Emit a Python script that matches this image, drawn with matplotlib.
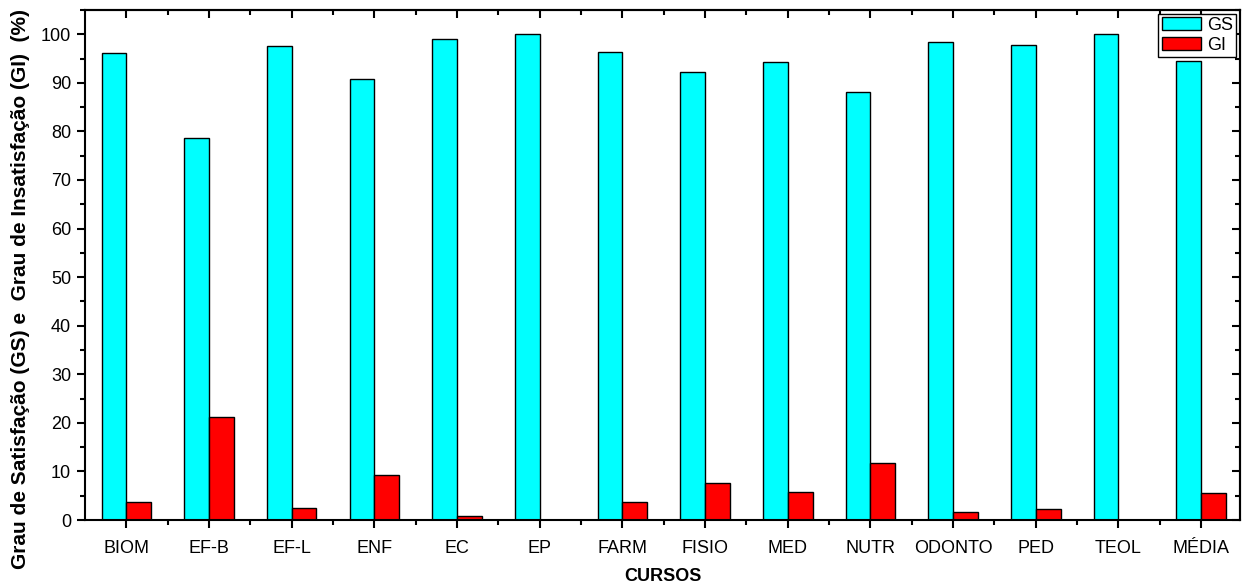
import matplotlib
matplotlib.use("Agg")
import matplotlib.pyplot as plt
import numpy as np
from matplotlib.ticker import MultipleLocator, FixedLocator

plt.rcParams['font.family'] = ['Liberation Sans', 'DejaVu Sans']

categories = ["BIOM", "EF-B", "EF-L", "ENF", "EC", "EP", "FARM", "FISIO",
              "MED", "NUTR", "ODONTO", "PED", "TEOL", "MÉDIA"]
gs_values = [96.2, 78.7, 97.6, 90.7, 99.1, 100.0, 96.3, 92.3, 94.3, 88.2, 98.3, 97.7, 100.0, 94.5]
gi_values = [3.8, 21.3, 2.4, 9.3, 0.9, 0.0, 3.7, 7.7, 5.7, 11.8, 1.7, 2.3, 0.0, 5.5]
y_ticks = [0, 10, 20, 30, 40, 50, 60, 70, 80, 90, 100]

fig = plt.figure(figsize=(12.44, 5.85), dpi=100)
ax = fig.add_axes([0.0683, 0.111, 0.9285, 0.872])

x = np.arange(len(categories))
w = 0.3
ax.bar(x - w / 2, gs_values, width=w, color="#00FFFF", edgecolor="black", linewidth=1.0, label="GS")
ax.bar(x + w / 2, gi_values, width=w, color="#FF0000", edgecolor="black", linewidth=1.0, label="GI")

ax.set_xlim(-0.5, 13.47)
ax.set_ylim(0, 105)
ax.set_xticks(x)
ax.set_xticklabels(categories, fontsize=13)
ax.xaxis.set_minor_locator(FixedLocator(x[:-1] + 0.5))
ax.set_yticks(y_ticks)
ax.set_yticklabels([str(v) for v in y_ticks], fontsize=13)
ax.yaxis.set_minor_locator(MultipleLocator(5))
ax.tick_params(axis='both', which='major', direction='out', length=6, width=1.5, pad=4)
ax.tick_params(axis='x', which='major', pad=8)
ax.tick_params(axis='both', which='minor', direction='out', length=3.5, width=1.5)

for s in ax.spines.values():
    s.set_linewidth(1.5)

top = ax.secondary_xaxis('top')
top.set_xticks(x)
top.xaxis.set_minor_locator(FixedLocator(x[:-1] + 0.5))
top.tick_params(axis='x', which='major', direction='in', length=6, width=1.5, labeltop=False)
top.tick_params(axis='x', which='minor', direction='in', length=3.5, width=1.5)
top.spines['top'].set_linewidth(1.5)

right = ax.secondary_yaxis('right')
right.set_yticks(y_ticks)
right.yaxis.set_minor_locator(MultipleLocator(5))
right.tick_params(axis='y', which='major', direction='in', length=6, width=1.5, labelright=False)
right.tick_params(axis='y', which='minor', direction='in', length=3.5, width=1.5)
right.spines['right'].set_linewidth(1.5)

ax.set_xlabel("CURSOS", fontsize=13, fontweight='bold', labelpad=8)
ax.set_ylabel("Grau de Satisfação (GS) e  Grau de Insatisfação (GI)  (%)", fontsize=15,
              fontweight='bold', va='center', ha='center')
ax.yaxis.set_label_coords(-0.0555, 0.453)

leg = ax.legend(loc='upper right', fontsize=13, frameon=True, fancybox=False,
                edgecolor='black', framealpha=1, handlelength=2.2, handleheight=0.75,
                borderpad=0.2, labelspacing=0.15, handletextpad=0.3, borderaxespad=0.2)
leg.get_frame().set_linewidth(1.0)

fig.savefig("out.png", dpi=100)
